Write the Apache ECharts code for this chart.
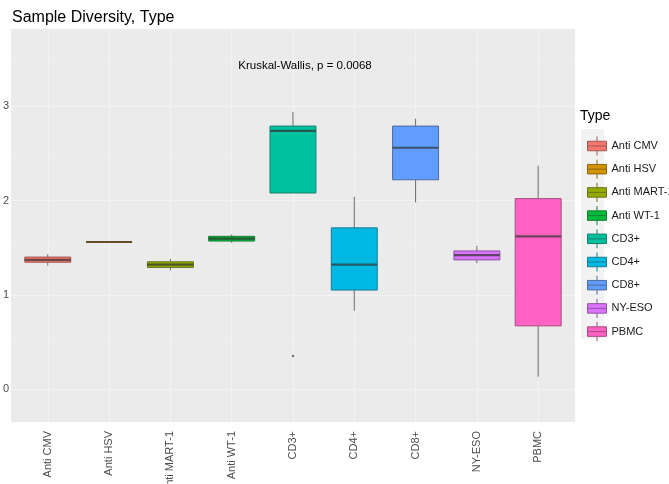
<!DOCTYPE html>
<html>
<head>
<meta charset="utf-8">
<script src="https://cdn.jsdelivr.net/npm/echarts@6/dist/echarts.min.js"></script>
<style>
  html, body { margin: 0; padding: 0; background: #fff; }
  #chart { width: 669px; height: 484px; }
</style>
</head>
<body>
<div id="chart"></div>
<script>
// box stats per type
const types = ['Anti CMV', 'Anti HSV', 'Anti MART-1', 'Anti WT-1', 'CD3+', 'CD4+', 'CD8+', 'NY-ESO', 'PBMC'];
const colors = ['#F8766D', '#D39200', '#93AA00', '#00BA38', '#00C19F', '#00B9E3', '#619CFF', '#DB72FB', '#FF61C3'];
const whiskerLow  = [1.31, 1.56, 1.26, 1.55, 2.08, 0.83, 1.98, 1.335, 0.13];
const q1          = [1.345, 1.56, 1.29, 1.57, 2.08, 1.05, 2.22, 1.37, 0.67];
const median      = [1.37, 1.56, 1.32, 1.595, 2.74, 1.32, 2.56, 1.42, 1.62];
const q3          = [1.40, 1.56, 1.35, 1.62, 2.79, 1.71, 2.79, 1.465, 2.02];
const whiskerHigh = [1.43, 1.56, 1.38, 1.64, 2.94, 2.04, 2.87, 1.52, 2.37];
const outliers = [[4, 0.35]]; // CD3+
const yTicks = [0, 1, 2, 3];
const yMinor = [0.5, 1.5, 2.5, 3.5];
const xCenters = [1, 2, 3, 4, 5, 6, 7, 8, 9];

const Y_MIN = -0.35, Y_MAX = 3.82;

// mix a hex colour toward grey20
function mix(hex, t) {
  const a = parseInt(hex.slice(1), 16);
  const r = (a >> 16) & 255, g = (a >> 8) & 255, b = a & 255;
  const m = v => Math.round(v * (1 - t) + 51 * t);
  return 'rgb(' + m(r) + ',' + m(g) + ',' + m(b) + ')';
}

const boxIcon = 'path://M0,5L20,5L20,15L0,15Z M0,10L20,10 M10,0L10,5 M10,15L10,20';

function renderBox(params, api) {
  const x = api.value(0);
  const lo = api.coord([x, api.value(1)]);
  const b1 = api.coord([x, api.value(2)]);
  const md = api.coord([x, api.value(3)]);
  const b3 = api.coord([x, api.value(4)]);
  const hi = api.coord([x, api.value(5)]);
  const bw = api.size([1, 0])[0] * 0.75;
  const fill = api.visual('color');
  const edge = mix(colors[params.seriesIndex], 0.45);
  const mid = mix(colors[params.seriesIndex], 0.72);
  const wh = '#6b6b6b';
  return {
    type: 'group',
    children: [
      { type: 'line', shape: { x1: hi[0], y1: hi[1], x2: b3[0], y2: b3[1] }, style: { stroke: wh, lineWidth: 1 } },
      { type: 'line', shape: { x1: b1[0], y1: b1[1], x2: lo[0], y2: lo[1] }, style: { stroke: wh, lineWidth: 1 } },
      { type: 'rect', shape: { x: b3[0] - bw / 2, y: b3[1], width: bw, height: b1[1] - b3[1] },
        style: { fill: fill, stroke: edge, lineWidth: 1 } },
      { type: 'line', shape: { x1: md[0] - bw / 2, y1: md[1], x2: md[0] + bw / 2, y2: md[1] },
        style: { stroke: mid, lineWidth: 2.2 } }
    ]
  };
}

const chart = echarts.init(document.getElementById('chart'));

const series = types.map((t, i) => ({
  name: t,
  type: 'custom',
  xAxisIndex: 1,
  yAxisIndex: 2,
  renderItem: renderBox,
  itemStyle: { color: colors[i], borderColor: mix(colors[i], 0.45), borderWidth: 1 },
  encode: { x: 0, y: [1, 2, 3, 4, 5] },
  data: [[i, whiskerLow[i], q1[i], median[i], q3[i], whiskerHigh[i]]],
  z: 3
}));

series.push({
  name: 'outlier',
  type: 'scatter',
  xAxisIndex: 1,
  yAxisIndex: 2,
  symbolSize: 2.5,
  itemStyle: { color: '#555' },
  data: outliers,
  z: 4
});

const option = {
  animation: false,
  textStyle: { fontFamily: 'Liberation Sans, Arial, sans-serif' },
  title: [
    {
      text: 'Sample Diversity, Type',
      left: 7, top: 5,
      textStyle: { fontSize: 16, fontWeight: 'normal', color: '#000' }
    },
    {
      text: 'Kruskal-Wallis, p = 0.0068',
      left: 300, top: 55, textAlign: 'center',
      textStyle: { fontSize: 11.5, fontWeight: 'normal', color: '#000' }
    }
  ],
  graphic: [
    { type: 'text', left: 580, top: 109, style: { text: 'Type', fontSize: 14, fill: '#000', fontFamily: 'Liberation Sans, Arial, sans-serif' } },
    { type: 'rect', left: 581, top: 129, shape: { width: 23, height: 210 }, style: { fill: '#F2F2F2' }, z: -1 }
  ],
  legend: {
    orient: 'vertical',
    left: 582, top: 131,
    itemWidth: 19, itemHeight: 20, itemGap: 3.2,
    textStyle: { fontSize: 11, color: '#1a1a1a' },
    itemStyle: { borderColor: 'inherit', borderWidth: 1 },
    data: types.map(t => ({ name: t, icon: boxIcon }))
  },
  grid: [
    { left: 11, top: 29, width: 564, height: 393, show: true, backgroundColor: '#EBEBEB', borderWidth: 0, outerBoundsMode: 'none' },
    { left: 17.13, top: 29, width: 551.7, height: 393, outerBoundsMode: 'none' }
  ],
  xAxis: [
    {
      type: 'value', gridIndex: 0, min: 0.4, max: 9.6,
      axisLine: { show: false },
      axisLabel: { show: false },
      axisTick: { show: false, customValues: xCenters },
      splitLine: { show: true, lineStyle: { color: '#F3F3F3', width: 1 } }
    },
    {
      type: 'category', gridIndex: 1, data: types,
      axisLine: { show: false },
      axisTick: { show: false },
      splitLine: { show: false },
      axisLabel: { rotate: 90, margin: 9, fontSize: 11, color: '#4D4D4D', interval: 0 }
    }
  ],
  yAxis: [
    {
      type: 'value', gridIndex: 0, min: Y_MIN, max: Y_MAX,
      axisLine: { show: false },
      axisTick: { show: false, customValues: yTicks },
      axisLabel: { customValues: yTicks, fontSize: 11, color: '#4D4D4D', margin: 2 },
      splitLine: { show: true, lineStyle: { color: '#F3F3F3', width: 1 } }
    },
    {
      type: 'value', gridIndex: 0, min: Y_MIN, max: Y_MAX, position: 'left',
      axisLine: { show: false },
      axisTick: { show: false, customValues: yMinor },
      axisLabel: { show: false, customValues: yMinor },
      splitLine: { show: true, lineStyle: { color: '#F0F0F0', width: 0.5 } }
    },
    {
      type: 'value', gridIndex: 1, min: Y_MIN, max: Y_MAX,
      show: false
    }
  ],
  series: series
};

chart.setOption(option);
</script>
</body>
</html>
